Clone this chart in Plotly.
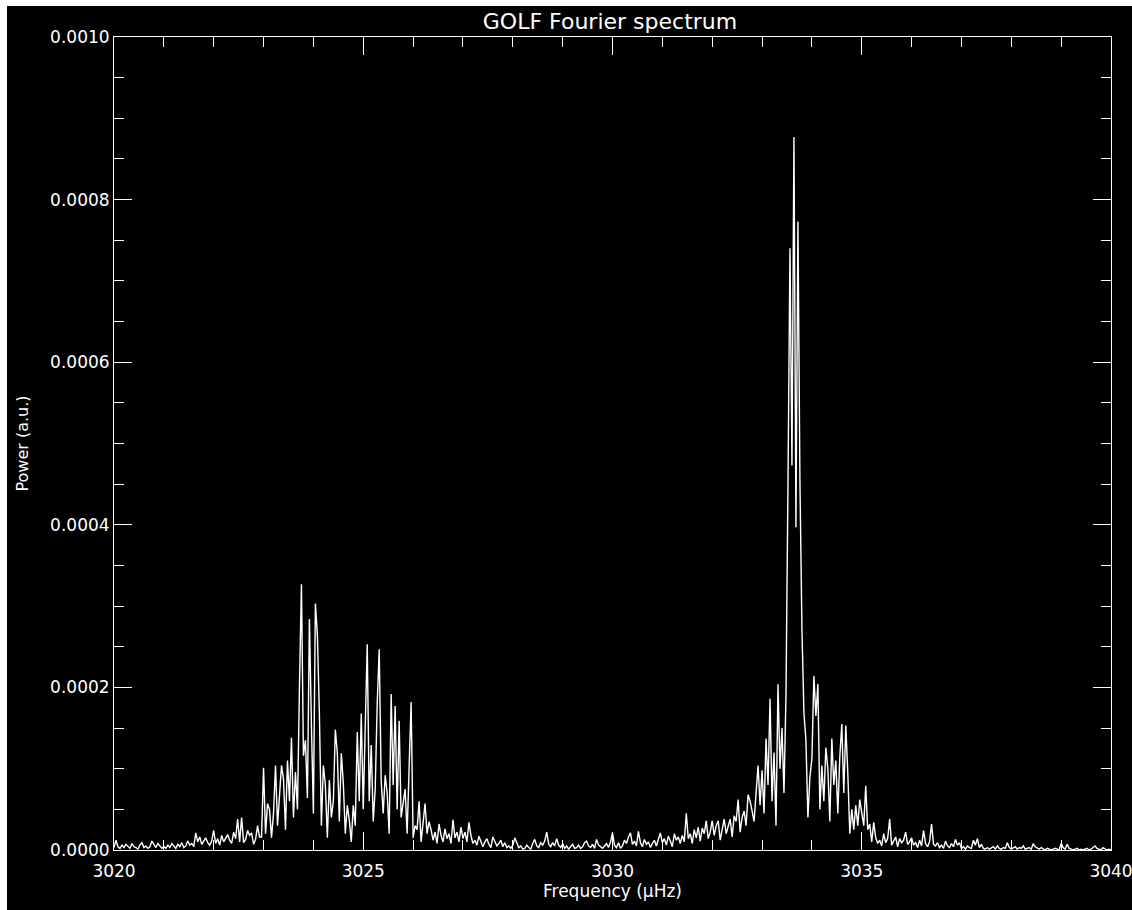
import numpy as np
import plotly.graph_objects as go

# Power spectrum around 3030 microHz, sampled every 0.04 microHz from 3020.
# Values are in units of 1e-6 (a.u.); one row per microHz.
FREQ_START = 3020.0
FREQ_STEP = 0.04
POWER_E6 = [
    3, 12, 4, 2, 6, 3, 7, 5, 2, 8, 4, 3, 1, 6, 9, 3, 5, 2, 4, 11, 6, 3, 8, 5, 2,
    4, 2, 6, 3, 8, 5, 2, 7, 4, 9, 3, 5, 11, 6, 8, 4, 21, 10, 16, 7, 12, 15, 9, 6, 11,
    24, 8, 14, 6, 18, 10, 15, 19, 12, 8, 22, 14, 38, 10, 40, 9, 13, 24, 18, 21, 7, 13, 30, 16, 16,
    101, 20, 57, 50, 15, 45, 104, 30, 70, 104, 87, 25, 110, 60, 138, 40, 96, 50, 200, 327, 116, 135, 64, 284, 154,
    45, 303, 264, 168, 30, 104, 80, 15, 86, 40, 60, 148, 119, 35, 119, 82, 20, 55, 37, 10, 55, 30, 145, 60, 168,
    50, 164, 253, 60, 129, 35, 75, 180, 247, 85, 45, 92, 70, 20, 192, 80, 177, 50, 159, 40, 55, 75, 20, 98, 182,
    15, 30, 25, 60, 10, 35, 57, 20, 35, 25, 12, 22, 8, 32, 18, 10, 26, 14, 20, 8, 37, 15, 22, 10, 28,
    14, 22, 10, 34, 18, 8, 12, 6, 17, 9, 4, 10, 14, 7, 3, 16, 11, 5, 8, 12, 4, 9, 3, 5, 2,
    6, 15, 8, 3, 5, 1, 2, 6, 3, 1, 8, 13, 5, 3, 9, 6, 11, 22, 7, 4, 9, 5, 14, 6, 3,
    8, 2, 5, 1, 4, 7, 2, 3, 6, 2, 4, 9, 11, 5, 3, 7, 2, 13, 6, 4, 2, 5, 8, 3, 10,
    21, 6, 3, 9, 2, 5, 12, 8, 16, 21, 7, 11, 5, 23, 9, 4, 13, 7, 10, 3, 8, 12, 5, 14, 21,
    9, 14, 6, 17, 11, 4, 20, 12, 16, 8, 18, 10, 45, 14, 20, 8, 25, 15, 28, 11, 27, 20, 36, 14, 22,
    36, 18, 30, 36, 12, 25, 38, 20, 30, 38, 16, 42, 35, 62, 22, 40, 48, 30, 68, 60, 48, 35, 70, 104, 55,
    98, 45, 137, 80, 186, 60, 120, 30, 204, 100, 150, 70, 190, 449, 740, 473, 877, 397, 773, 453, 272, 169, 135, 40, 90,
    112, 214, 165, 204, 50, 104, 60, 126, 100, 35, 137, 80, 110, 45, 115, 155, 70, 153, 95, 20, 50, 25, 55, 30, 62,
    44, 30, 79, 25, 32, 10, 34, 15, 8, 12, 5, 20, 9, 14, 38, 6, 11, 16, 4, 14, 9, 12, 22, 7, 10,
    15, 6, 9, 3, 12, 5, 24, 8, 4, 10, 32, 7, 5, 9, 3, 6, 2, 11, 5, 3, 8, 4, 13, 6, 9,
    2, 4, 1, 5, 3, 2, 12, 6, 14, 3, 7, 2, 1, 3, 1, 2, 4, 1, 5, 2, 1, 3, 2, 9, 3,
    1, 2, 4, 1, 3, 2, 5, 1, 2, 3, 1, 8, 4, 2, 1, 3, 1, 0, 2, 1, 0, 1, 2, 1, 0,
    8, 3, 1, 7, 2, 1, 0, 1, 2, 0, 1, 0, 1, 2, 0, 1, 3, 5, 2, 1, 0, 3, 1, 0, 1,
    0,
]

X_TICKS = [3020, 3025, 3030, 3035, 3040]
Y_TICKS = [0.0, 0.0002, 0.0004, 0.0006, 0.0008, 0.0010]
Y_TICK_TEXT = ["0.0000", "0.0002", "0.0004", "0.0006", "0.0008", "0.0010"]

freq = FREQ_START + FREQ_STEP * np.arange(len(POWER_E6))
power = np.array(POWER_E6, dtype=float) * 1e-6

FONT = "DejaVu Sans"
WHITE = "#ffffff"
BLACK = "#000000"

W, H = 1132, 910
M_L, M_R, M_T, M_B = 114, 21, 37, 60
PLOT_W = W - M_L - M_R
PLOT_H = H - M_T - M_B


def text_font(size):
    return dict(family=FONT, size=size, color=WHITE)


fig = go.Figure(
    go.Scatter(
        x=freq,
        y=power,
        mode="lines",
        line=dict(color=WHITE, width=1.4),
        hoverinfo="skip",
    )
)

axis_common = dict(
    showline=True,
    linecolor=WHITE,
    linewidth=1,
    mirror="allticks",
    ticks="inside",
    tickcolor=WHITE,
    tickwidth=1,
    ticklen=18,
    showgrid=False,
    zeroline=False,
    automargin=False,
    ticklabeloverflow="allow",
    tickfont=text_font(17),
)

fig.update_xaxes(
    range=[3020, 3040],
    tickvals=X_TICKS,
    ticktext=[str(v) for v in X_TICKS],
    ticklabelstandoff=6,
    minor=dict(dtick=1, ticks="inside", ticklen=10, tickcolor=WHITE, tickwidth=1),
    title=dict(text="Frequency (μHz)", font=text_font(17), standoff=4),
    **axis_common,
)
fig.update_yaxes(
    range=[0, 0.001],
    tickvals=Y_TICKS,
    ticktext=Y_TICK_TEXT,
    minor=dict(dtick=0.00005, ticks="inside", ticklen=10, tickcolor=WHITE, tickwidth=1),
    title=dict(text="Power (a.u.)", font=text_font(16), standoff=17),
    **axis_common,
)

# Thin white border along the top and left edges of the black canvas.
for x0, x1, y0, y1 in [
    (-(M_L + 20), W - M_L + 20, H - M_B - 6, H - M_B + 20),  # top strip
    (-(M_L + 20), 7 - M_L, -(M_B + 20), H - M_B + 20),  # left strip
]:
    fig.add_shape(
        type="rect",
        xref="paper",
        yref="paper",
        x0=x0 / PLOT_W,
        x1=x1 / PLOT_W,
        y0=y0 / PLOT_H,
        y1=y1 / PLOT_H,
        fillcolor=WHITE,
        line=dict(width=0),
        layer="below",
    )

fig.update_layout(
    width=W,
    height=H,
    margin=dict(l=M_L, r=M_R, t=M_T, b=M_B),
    paper_bgcolor=BLACK,
    plot_bgcolor=BLACK,
    showlegend=False,
    title=dict(
        text="GOLF Fourier spectrum",
        font=text_font(22),
        x=610 / W,
        xref="container",
        xanchor="center",
        y=1 - 21 / H,
        yanchor="middle",
        yref="container",
    ),
)

fig.write_html("out.html", config={"displayModeBar": False})
